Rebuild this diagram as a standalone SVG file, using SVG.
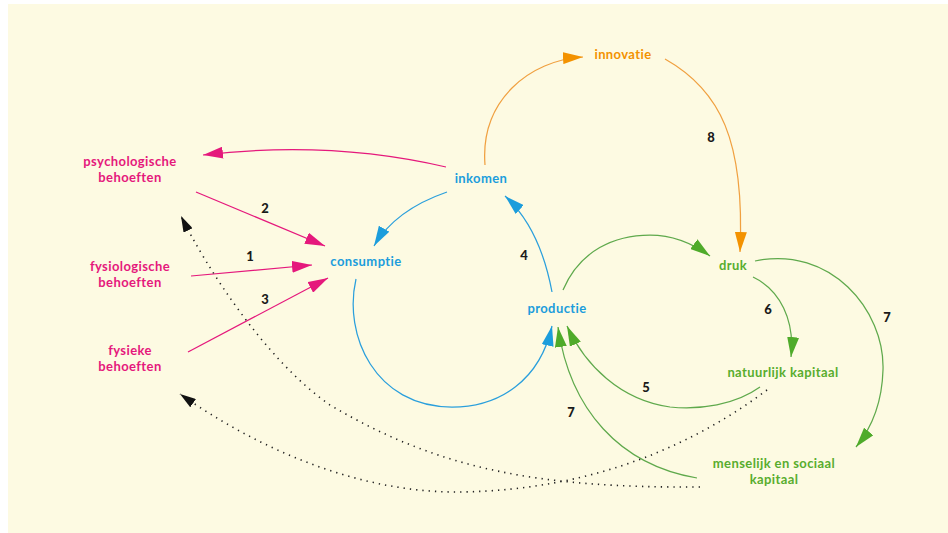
<svg xmlns="http://www.w3.org/2000/svg" width="948" height="533" viewBox="0 0 948 533">
  <style>
    text { font-family: Lato, "Liberation Sans", sans-serif; font-size: 13px; font-weight: 700; text-anchor: middle; letter-spacing: 0.4px; }
    .pk { fill: #e5187c; }
    .bl { fill: #1c9ddc; }
    .or { fill: #f39200; }
    .gr { fill: #58ad2e; }
    .num { fill: #1a1a1a; font-weight: 900; letter-spacing: 0; }
    .c { fill: none; stroke-width: 1.25; }
    .cp { stroke: #e5187c; marker-end: url(#ahPink); }
    .cb { stroke: #2a9fdc; marker-end: url(#ahBlue); }
    .co { stroke: #f0a040; marker-end: url(#ahOrange); }
    .cg { stroke: #5fa94c; marker-end: url(#ahGreen); }
    .cd { stroke: #222; stroke-width: 1.6; stroke-dasharray: 1.3 5; marker-end: url(#ahBlack); }
  </style>
  <defs>
    <marker id="ahPink" viewBox="0 0 20 12" refX="20" refY="6" markerWidth="20" markerHeight="12" markerUnits="userSpaceOnUse" orient="auto">
      <path d="M0,0 L20,6 L0,12 Z" fill="#e5187c"/>
    </marker>
    <marker id="ahBlue" viewBox="0 0 20 12" refX="20" refY="6" markerWidth="20" markerHeight="12" markerUnits="userSpaceOnUse" orient="auto">
      <path d="M0,0 L20,6 L0,12 Z" fill="#1c9ddc"/>
    </marker>
    <marker id="ahOrange" viewBox="0 0 20 12" refX="20" refY="6" markerWidth="20" markerHeight="12" markerUnits="userSpaceOnUse" orient="auto">
      <path d="M0,0 L20,6 L0,12 Z" fill="#f39200"/>
    </marker>
    <marker id="ahGreen" viewBox="0 0 20 12" refX="20" refY="6" markerWidth="20" markerHeight="12" markerUnits="userSpaceOnUse" orient="auto">
      <path d="M0,0 L20,6 L0,12 Z" fill="#4fab2a"/>
    </marker>
    <marker id="ahBlack" viewBox="0 0 16 10" refX="16" refY="5" markerWidth="16" markerHeight="10" markerUnits="userSpaceOnUse" orient="auto">
      <path d="M0,0 L16,5 L0,10 Z" fill="#111"/>
    </marker>
  </defs>

  <!-- page background -->
  <rect x="8" y="4" width="940" height="529" fill="#fdfae2"/>

  <g id="connectors">
    <!-- needs into consumption -->
    <path class="c cp" d="M446,167 Q330,140 203,155"/>
    <path class="c cp" d="M196,192 L325,246"/>
    <path class="c cp" d="M191,276 L312,265"/>
    <path class="c cp" d="M188,352 L328,278"/>
    <!-- economic loop -->
    <path class="c cb" d="M447,192 Q395,210 374,246"/>
    <path class="c cb" d="M552,292 Q540,228 505,196"/>
    <path class="c cb" d="M356,279 C343,335 375,407 452,407 C500,407 540,380 552,326"/>
    <!-- innovation -->
    <path class="c co" d="M485,165 C480,100 530,60 583,57"/>
    <path class="c co" d="M665,59 C720,90 745,140 740,252"/>
    <!-- pressure and capital -->
    <path class="c cg" d="M563,290 C580,250 615,235 650,235 C675,235 695,245 710,256"/>
    <path class="c cg" d="M753,277 C780,290 795,320 791,357"/>
    <path class="c cg" d="M755,261 C830,245 885,310 883,370 C882,405 870,430 856,447"/>
    <path class="c cg" d="M760,387 C735,405 700,410 670,407 C620,400 585,365 567,326"/>
    <path class="c cg" d="M697,478 C620,465 570,410 558,327"/>
    <!-- capital back to needs -->
    <path class="c cd" d="M700,487 C540,488 440,470 330,405 C265,360 205,265 181,216"/>
    <path class="c cd" d="M767,390 C700,440 600,490 460,492 C360,493 260,450 180,394"/>
  </g>

  <g id="labels">
    <text class="num" x="265" y="213">2</text>
    <text class="num" x="250" y="261">1</text>
    <text class="num" x="265" y="304">3</text>
    <text class="num" x="524" y="260">4</text>
    <text class="num" x="711" y="142">8</text>
    <text class="num" x="768" y="314">6</text>
    <text class="num" x="887" y="322">7</text>
    <text class="num" x="646" y="392">5</text>
    <text class="num" x="571" y="417">7</text>
  </g>

  <g id="psychologische-behoeften">
    <text class="pk" x="130" y="166">psychologische</text>
    <text class="pk" x="130" y="182">behoeften</text>
  </g>
  <g id="fysiologische-behoeften">
    <text class="pk" x="130" y="271">fysiologische</text>
    <text class="pk" x="130" y="287">behoeften</text>
  </g>
  <g id="fysieke-behoeften">
    <text class="pk" x="130" y="355">fysieke</text>
    <text class="pk" x="130" y="371">behoeften</text>
  </g>
  <g id="inkomen">
    <text class="bl" x="481" y="183">inkomen</text>
  </g>
  <g id="consumptie">
    <text class="bl" x="366" y="266">consumptie</text>
  </g>
  <g id="productie">
    <text class="bl" x="557" y="313">productie</text>
  </g>
  <g id="innovatie">
    <text class="or" x="623" y="59">innovatie</text>
  </g>
  <g id="druk">
    <text class="gr" x="733" y="270">druk</text>
  </g>
  <g id="natuurlijk-kapitaal">
    <text class="gr" x="783" y="377">natuurlijk kapitaal</text>
  </g>
  <g id="menselijk-en-sociaal-kapitaal">
    <text class="gr" x="774" y="468">menselijk en sociaal</text>
    <text class="gr" x="774" y="484">kapitaal</text>
  </g>
</svg>
